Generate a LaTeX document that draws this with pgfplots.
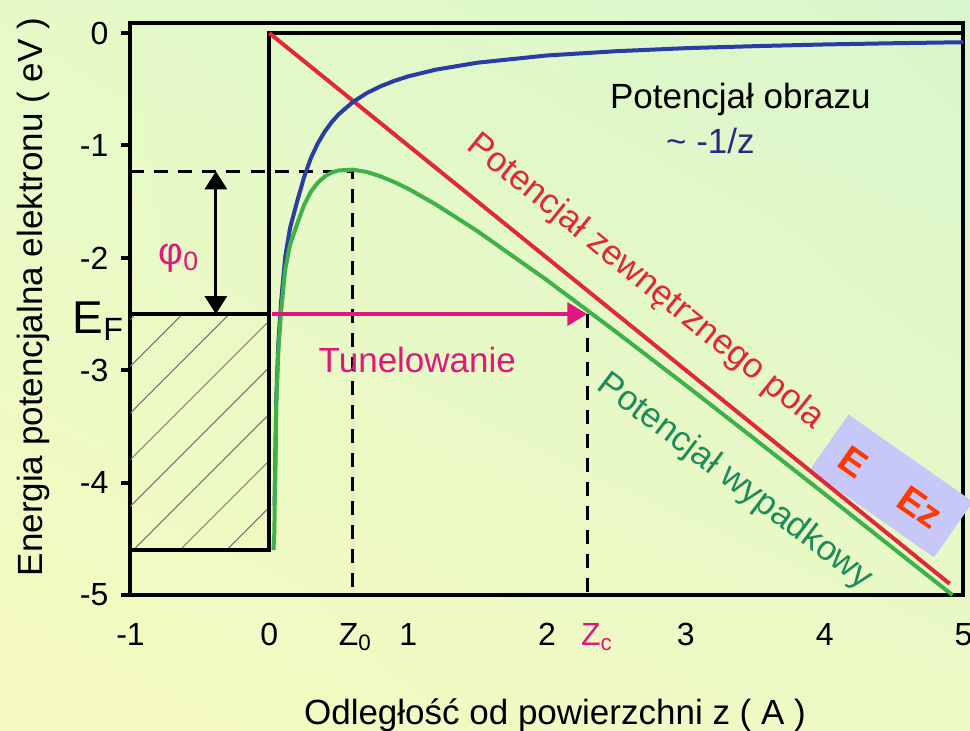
\documentclass[border=0pt]{standalone}
\usepackage{pgfplots}
\pgfplotsset{compat=1.18}
\usepackage{fontspec}
\setmainfont{Liberation Sans}
\usetikzlibrary{arrows.meta,patterns.meta,shadings}
\definecolor{redc}{RGB}{226,40,52}
\definecolor{bluec}{RGB}{42,60,165}
\definecolor{greenc}{RGB}{62,178,72}
\definecolor{greent}{RGB}{30,140,90}
\definecolor{navyt}{RGB}{48,40,128}
\definecolor{magc}{RGB}{226,22,126}
\definecolor{boxc}{RGB}{200,200,248}
\definecolor{ezc}{RGB}{255,56,0}
\definecolor{bgul}{RGB}{230,250,200}
\definecolor{bgur}{RGB}{216,246,204}
\definecolor{bgll}{RGB}{246,250,192}
\definecolor{bglr}{RGB}{236,249,196}
\newcommand\lab{\fontsize{17.5}{21}\selectfont}
\newcommand\tl[1]{{\fontsize{16}{19}\selectfont #1}}
\begin{document}
\begin{tikzpicture}
\useasboundingbox (0,0) rectangle (485pt,365pt);
\shade[upper left=bgul, upper right=bgur, lower left=bgll, lower right=bglr]
  (0,0) rectangle (485pt,365pt);
\begin{axis}[
  at={(65.25pt,67.5pt)}, anchor=south west,
  scale only axis, width=416.5pt, height=286pt,
  xmin=-1, xmax=5, ymin=-5, ymax=0.09,
  clip=false,
  axis line style={line width=2pt, black},
  xtick={-1,0,0.62,1,2,2.36,3,4,5},
  xticklabels={\tl{-1},\tl{0},\tl{Z\textsubscript{0}},\tl{1},\tl{2},\tl{\textcolor{magc}{Z\textsubscript{c}}},\tl{3},\tl{4},\tl{5}},
  ytick={-5,-4,-3,-2,-1,0},
  yticklabels={\tl{-5},\tl{-4},\tl{-3},\tl{-2},\tl{-1},\tl{0}},
  ytick pos=left, xtick pos=bottom,
  tick align=outside, major tick length=4.5pt,
  ytick style={line width=2pt, black},
  xtick style={draw=none},
  yticklabel style={xshift=-3pt},
  xticklabel style={yshift=-6pt},
]
% metal hatching
\fill[pattern={Lines[angle=45,distance=16.5pt,line width=0.5pt]}, pattern color=black!55]
  (axis cs:-1,-4.6) rectangle (axis cs:0,-2.5);
% box of the surface
\draw[line width=2pt, black] (axis cs:5,0) -- (axis cs:0,0) -- (axis cs:0,-4.6) -- (axis cs:-1,-4.6);
\draw[line width=2pt, black] (axis cs:-1,-2.5) -- (axis cs:0,-2.5);
% dashed lines
\draw[line width=1.5pt, black, dash pattern=on 7pt off 5pt] (axis cs:-1,-1.23) -- (axis cs:0.6,-1.23) -- (axis cs:0.6,-5);
\draw[line width=1.5pt, black, dash pattern=on 7pt off 5pt] (axis cs:2.29,-2.5) -- (axis cs:2.29,-5);
% phi0 arrow
\draw[line width=1.5pt, black, {Triangle[length=9pt,width=11pt]}-{Triangle[length=9pt,width=11pt]}]
  (axis cs:-0.385,-1.23) -- (axis cs:-0.385,-2.5);
% field box
\node[overlay, fill=boxc, minimum width=76pt, minimum height=34pt, rotate=-35, inner sep=0pt] at (axis cs:4.48,-4.03) {};
\node[rotate=-35, text=ezc, font=\fontsize{19}{22}\selectfont\bfseries] at (axis cs:4.205,-3.817) {E};
\node[rotate=-35, text=ezc, font=\fontsize{19}{22}\selectfont\bfseries] at (axis cs:4.69,-4.217) {Ez};
% external field potential
\addplot[redc, line width=2pt] coordinates {(0,0) (4.9,-4.9)};
% image potential
\addplot[bluec, line width=2pt, line join=round] coordinates {
(0.038,-4.2) (0.043,-3.82) (0.05,-3.25) (0.065,-2.755) (0.086,-2.374) (0.115,-1.985)
(0.15,-1.73) (0.2,-1.5) (0.25,-1.283) (0.3,-1.110) (0.35,-0.979) (0.4,-0.875)
(0.45,-0.791) (0.5,-0.722) (0.6,-0.615) (0.7,-0.535) (0.8,-0.474) (0.9,-0.425)
(1.0,-0.385) (1.2,-0.325) (1.5,-0.263) (2.0,-0.199) (2.5,-0.161) (3.0,-0.134)
(3.5,-0.116) (4.0,-0.101) (4.5,-0.090) (5.0,-0.081)};
% resulting potential
\addplot[greenc, line width=2pt, line join=round] coordinates {
(0.03,-4.6) (0.036,-4.45) (0.043,-3.86) (0.05,-3.3) (0.065,-2.82) (0.086,-2.46)
(0.115,-2.1) (0.15,-1.88) (0.2,-1.70) (0.25,-1.53) (0.3,-1.41) (0.35,-1.33)
(0.4,-1.275) (0.45,-1.24) (0.5,-1.222) (0.6,-1.215) (0.7,-1.235) (0.8,-1.274)
(0.9,-1.325) (1.0,-1.385) (1.2,-1.525) (1.5,-1.763) (2.0,-2.199) (2.5,-2.661)
(3.0,-3.134) (3.5,-3.616) (4.0,-4.101) (4.5,-4.590) (4.92,-5.0)};
% tunneling arrow
\draw[magc, line width=2pt, -{Triangle[length=10pt,width=11.5pt]}] (axis cs:0.02,-2.5) -- (axis cs:2.29,-2.5);
% texts
\node[anchor=base, text=magc, font=\lab] at (axis cs:1.066,-3.016) {Tunelowanie};
\node[anchor=west, text=magc, font=\fontsize{19}{22}\selectfont, inner sep=0pt] at (axis cs:-0.80,-2.0) {φ\textsubscript{0}};
\node[anchor=base west, font=\fontsize{23}{27}\selectfont, inner sep=0pt] at (axis cs:-1.42,-2.67) {E\textsubscript{F}};
\node[anchor=base, font=\lab] at (axis cs:3.393,-0.667) {Potencjał obrazu};
\node[anchor=base, text=navyt, font=\lab] at (axis cs:3.177,-1.068) {\textasciitilde{} -1/z};
\node[anchor=base west, rotate=-39, text=redc, font=\lab, inner sep=0pt] at (axis cs:1.412,-1.023) {Potencjał zewnętrznego pola};
\node[anchor=base west, rotate=-37, text=greent, font=\lab, inner sep=0pt] at (axis cs:2.349,-3.158) {Potencjał wypadkowy};
\end{axis}
\node[anchor=base, font=\lab] at (277.5pt,3pt) {Odległość od powierzchni z ( A )};
\node[rotate=90, font=\lab] at (16.5pt,216.5pt) {Energia potencjalna elektronu ( eV )};
\end{tikzpicture}
\end{document}
